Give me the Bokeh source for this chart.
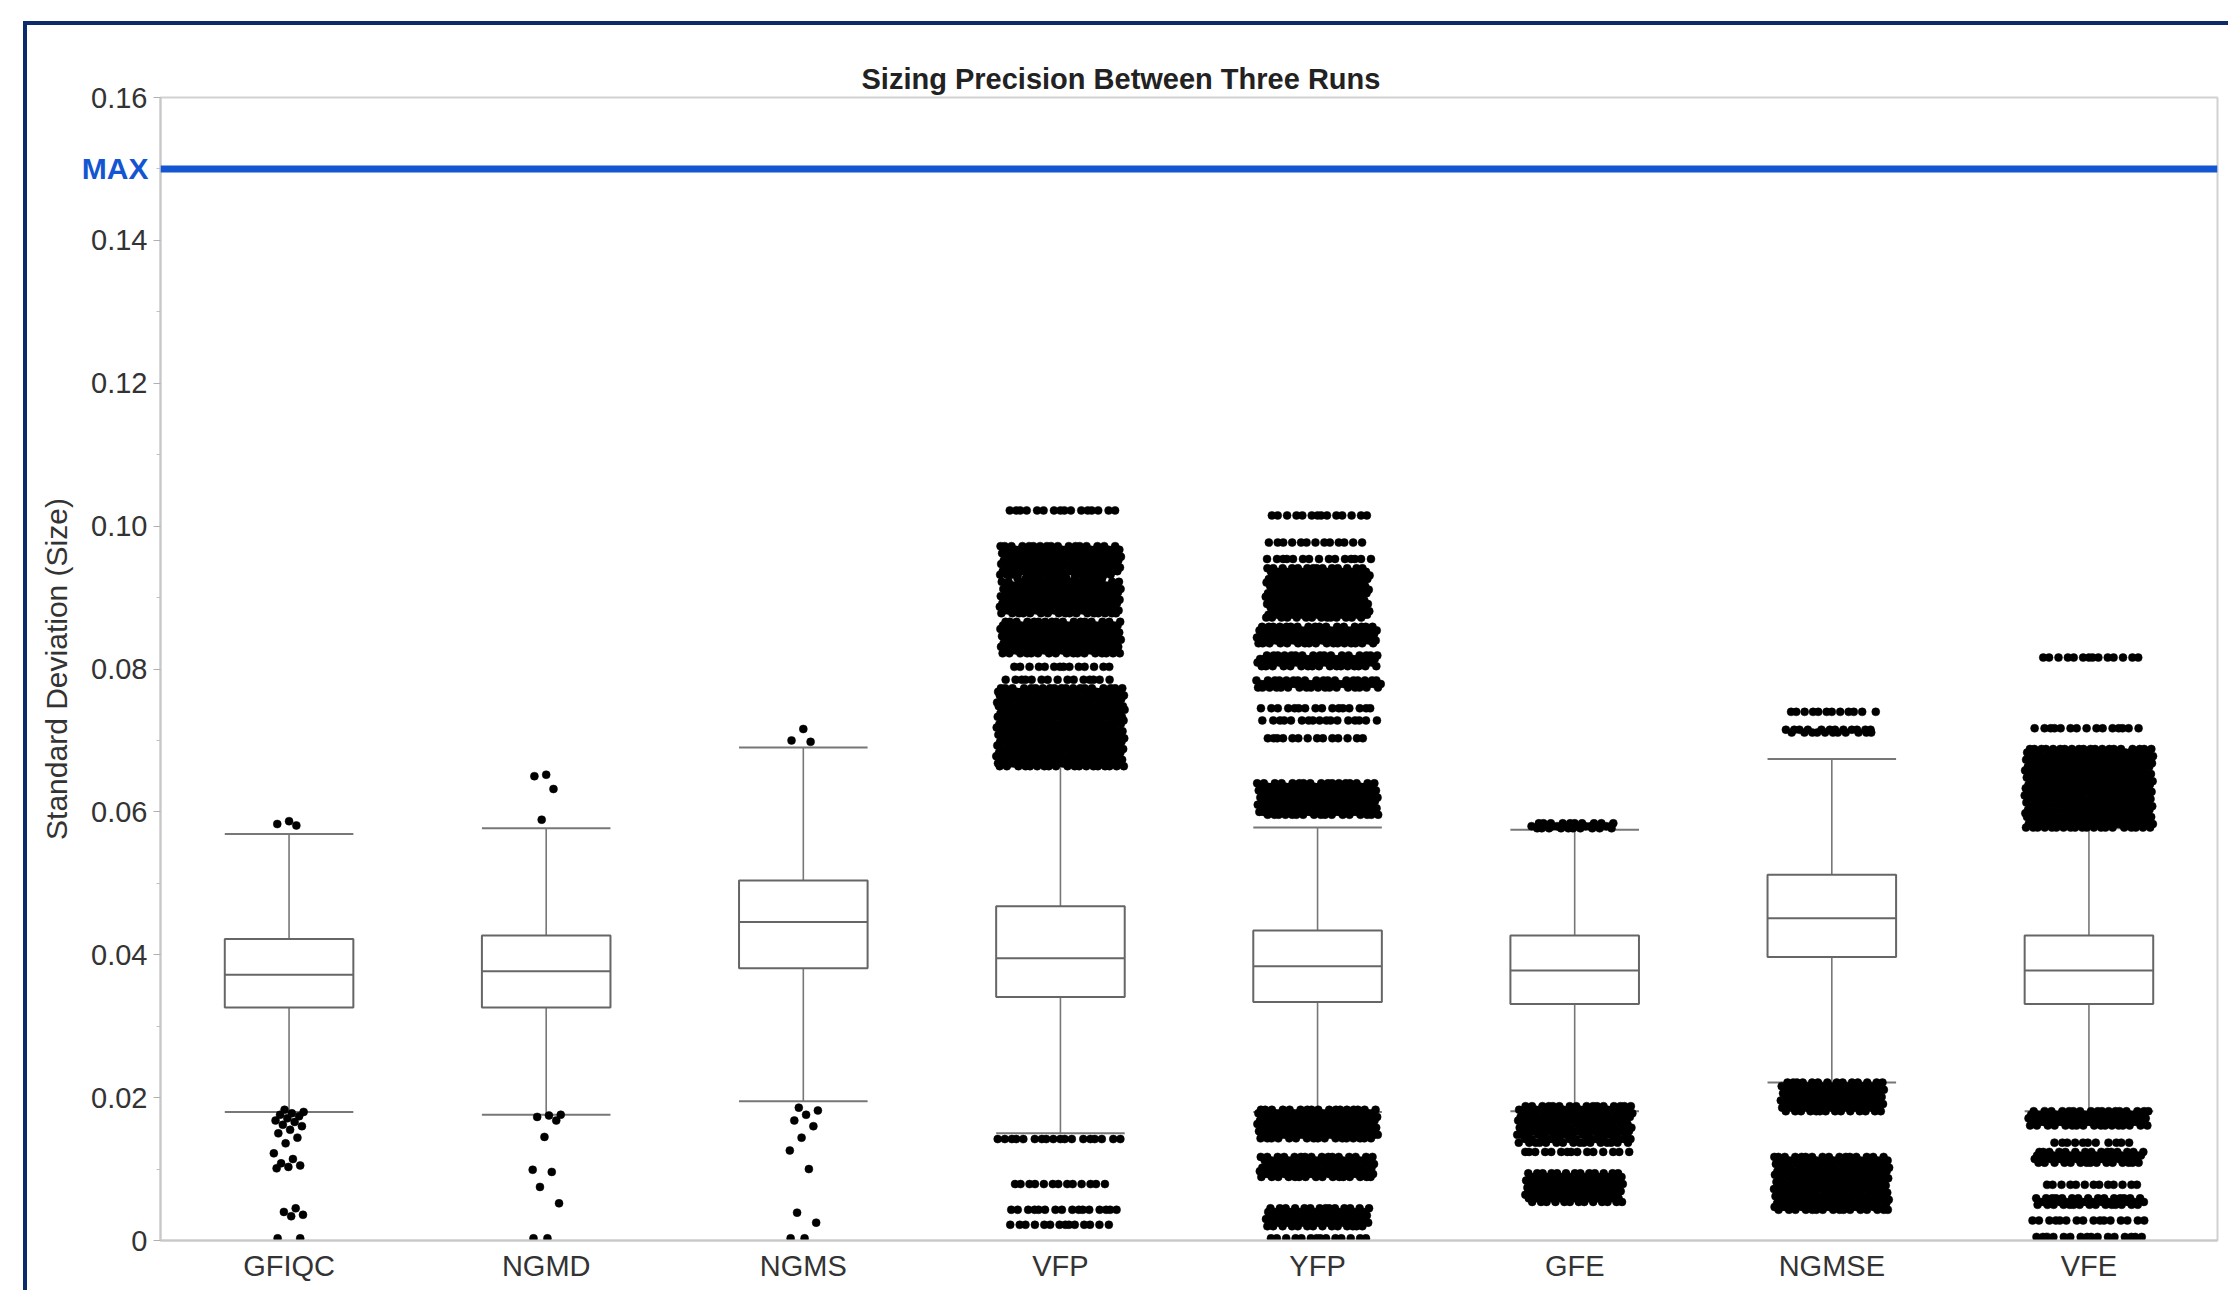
from bokeh.plotting import figure
from bokeh.models import Range1d, FixedTicker, PrintfTickFormatter, Span, LinearAxis
from bokeh.embed import file_html
from bokeh.resources import INLINE

# ---------------- data ----------------
categories = ["GFIQC", "NGMD", "NGMS", "VFP", "YFP", "GFE", "NGMSE", "VFE"]
q1 = [0.0326, 0.0326, 0.0381, 0.0341, 0.0334, 0.0331, 0.0397, 0.0331]
median = [0.0372, 0.0377, 0.0446, 0.0395, 0.0384, 0.0378, 0.0451, 0.0378]
q3 = [0.0422, 0.0427, 0.0504, 0.0468, 0.0434, 0.0427, 0.0512, 0.0427]
whisker_low = [0.0180, 0.0176, 0.0195, 0.0150, 0.0180, 0.0181, 0.0221, 0.0181]
whisker_high = [0.0569, 0.0577, 0.0690, 0.0663, 0.0578, 0.0575, 0.0674, 0.0577]
MAX_LEVEL = 0.15
y_ticks = [0, 0.02, 0.04, 0.06, 0.08, 0.10, 0.12, 0.14, 0.16]
y_minor = [0.01, 0.03, 0.05, 0.07, 0.09, 0.11, 0.13, 0.15]

# outliers: value levels and number of points at each level
GFIQC_out_vals = [0.0587, 0.0583, 0.0581, 0.0183, 0.0180, 0.0178, 0.0176, 0.0174, 0.0171,
                  0.0168, 0.0166, 0.0162, 0.0160, 0.0155, 0.0150, 0.0144, 0.0136, 0.0122,
                  0.0114, 0.0108, 0.0105, 0.0103, 0.0101, 0.0045, 0.0040, 0.0036, 0.0034, 0.0003]
GFIQC_out_counts = [1, 1, 1, 1, 1, 1, 1, 1, 1, 1, 1, 1, 1, 1, 1, 1, 1, 1, 1, 1, 1, 1, 1, 1, 1, 1, 1, 2]

NGMD_out_vals = [0.0652, 0.0650, 0.0632, 0.0589, 0.0176, 0.0175, 0.0173, 0.0168, 0.0145,
                 0.0099, 0.0096, 0.0075, 0.0052, 0.0003]
NGMD_out_counts = [1, 1, 1, 1, 1, 1, 1, 1, 1, 1, 1, 1, 1, 2]

NGMS_out_vals = [0.0716, 0.0700, 0.0698, 0.0186, 0.0182, 0.0176, 0.0168, 0.0160, 0.0144,
                 0.0126, 0.0100, 0.0039, 0.0025, 0.0003]
NGMS_out_counts = [1, 1, 1, 1, 1, 1, 1, 1, 1, 1, 1, 1, 1, 2]

VFP_out_vals = [0.1022,
                0.0972, 0.0967, 0.0962, 0.0957, 0.0952, 0.0947, 0.0942, 0.0937, 0.0932, 0.0927,
                0.0922, 0.0917, 0.0912, 0.0907, 0.0902, 0.0897, 0.0892, 0.0887, 0.0882, 0.0878,
                0.0866, 0.0861, 0.0856, 0.0851, 0.0846, 0.0841, 0.0836, 0.0831, 0.0826, 0.0822,
                0.0803, 0.0785,
                0.0773, 0.0768, 0.0763, 0.0758, 0.0753, 0.0748, 0.0743, 0.0738, 0.0733, 0.0728,
                0.0723, 0.0718, 0.0713, 0.0708, 0.0703, 0.0698, 0.0693, 0.0688, 0.0683, 0.0678,
                0.0673, 0.0668, 0.0664,
                0.0142, 0.0079, 0.0043, 0.0022]
VFP_out_counts = [16,
                  17, 17, 17, 17, 17, 17, 17, 17, 17, 12,
                  17, 17, 17, 17, 17, 17, 17, 17, 17, 17,
                  17, 17, 17, 17, 17, 17, 17, 17, 17, 17,
                  14, 15,
                  19, 19, 19, 19, 19, 19, 19, 19, 19, 19,
                  19, 19, 19, 19, 19, 19, 19, 19, 19, 19,
                  19, 19, 19,
                  18, 13, 16, 14]

YFP_out_vals = [0.1015, 0.0977, 0.0954,
                0.0941, 0.0936, 0.0931, 0.0926, 0.0921, 0.0916, 0.0911, 0.0906, 0.0901, 0.0896,
                0.0891, 0.0886, 0.0881, 0.0876, 0.0872,
                0.0859, 0.0854, 0.0849, 0.0844, 0.0840, 0.0836,
                0.0819, 0.0814, 0.0809, 0.0804,
                0.0784, 0.0779, 0.0774,
                0.0745, 0.0728, 0.0703,
                0.0640, 0.0635, 0.0630, 0.0625, 0.0620, 0.0615, 0.0610, 0.0605, 0.0600, 0.0596,
                0.0183, 0.0178, 0.0173, 0.0168, 0.0163, 0.0158, 0.0153, 0.0148, 0.0143,
                0.0117, 0.0112, 0.0107, 0.0102, 0.0097, 0.0093, 0.0089,
                0.0045, 0.0040, 0.0035, 0.0030, 0.0025, 0.0020,
                0.0003]
YFP_out_counts = [14, 13, 15,
                  14, 14, 14, 14, 14, 14, 14, 14, 14, 14,
                  14, 14, 14, 14, 14,
                  17, 17, 17, 17, 17, 17,
                  17, 17, 17, 17,
                  18, 18, 18,
                  16, 17, 14,
                  17, 17, 17, 17, 17, 17, 17, 17, 17, 17,
                  17, 17, 17, 17, 17, 17, 17, 17, 17,
                  16, 16, 16, 16, 16, 16, 16,
                  14, 14, 14, 14, 14, 14,
                  14]

GFE_out_vals = [0.0584, 0.0580, 0.0577,
                0.0188, 0.0183, 0.0178, 0.0173, 0.0168, 0.0163, 0.0158, 0.0153, 0.0148, 0.0142, 0.0137,
                0.0124,
                0.0094, 0.0089, 0.0084, 0.0079, 0.0074, 0.0069, 0.0064, 0.0059, 0.0054]
GFE_out_counts = [10, 11, 10,
                  16, 16, 16, 16, 16, 16, 16, 16, 16, 16, 16,
                  15,
                  13, 13, 13, 13, 13, 13, 13, 13, 13]

NGMSE_out_vals = [0.0740, 0.0715, 0.0711,
                  0.0221, 0.0216, 0.0211, 0.0206, 0.0201, 0.0196, 0.0191, 0.0186, 0.0181,
                  0.0117, 0.0112, 0.0107, 0.0102, 0.0097, 0.0092, 0.0087, 0.0082, 0.0077, 0.0072,
                  0.0067, 0.0062, 0.0057, 0.0052, 0.0047, 0.0043]
NGMSE_out_counts = [12, 12, 11,
                    14, 14, 14, 14, 14, 14, 14, 14, 14,
                    16, 16, 16, 16, 16, 16, 16, 16, 16, 16,
                    16, 16, 16, 16, 16, 16]

VFE_out_vals = [0.0816, 0.0717,
                0.0688, 0.0683, 0.0678, 0.0673, 0.0668, 0.0663, 0.0658, 0.0653, 0.0648, 0.0643,
                0.0638, 0.0633, 0.0628, 0.0623, 0.0618, 0.0613, 0.0608, 0.0603, 0.0598, 0.0593,
                0.0588, 0.0583, 0.0578,
                0.0181, 0.0176, 0.0171, 0.0166, 0.0161,
                0.0137,
                0.0124, 0.0119, 0.0114, 0.0109,
                0.0078,
                0.0059, 0.0054, 0.0050,
                0.0028, 0.0005]
VFE_out_counts = [14, 15,
                  20, 20, 20, 20, 20, 20, 20, 20, 20, 20,
                  20, 20, 20, 20, 20, 20, 20, 20, 20, 20,
                  20, 20, 20,
                  17, 17, 17, 17, 17,
                  11,
                  15, 15, 15, 15,
                  13,
                  15, 15, 15,
                  16, 16]

out_vals = [GFIQC_out_vals, NGMD_out_vals, NGMS_out_vals, VFP_out_vals,
            YFP_out_vals, GFE_out_vals, NGMSE_out_vals, VFE_out_vals]
out_counts = [GFIQC_out_counts, NGMD_out_counts, NGMS_out_counts, VFP_out_counts,
              YFP_out_counts, GFE_out_counts, NGMSE_out_counts, VFE_out_counts]

# ---------------- styling constants ----------------
FONT = "Liberation Sans"
TEXT = "#333333"
BLUE = "#1456d2"
NAVY = "#0d2a6a"
BOX_W = 0.5

xc = [i + 0.5 for i in range(len(categories))]

page_bg = ("linear-gradient(%s, %s) 23px 21px / 4px 100%% no-repeat, "
           "linear-gradient(%s, %s) 23px 21px / 100%% 4px no-repeat, #ffffff") % (NAVY, NAVY, NAVY, NAVY)

p = figure(width=2228, height=1290,
           x_range=Range1d(0, len(categories)), y_range=Range1d(0, 0.16),
           output_backend="svg", toolbar_location=None,
           min_border_left=160, min_border_right=11, min_border_top=97, min_border_bottom=50,
           background_fill_color="white", border_fill_color=None,
           styles={"background": page_bg})
p.outline_line_color = "#d2d2d2"
p.outline_line_width = 2
p.xgrid.visible = False
p.ygrid.visible = False

# title
p.title.text = "Sizing Precision Between Three Runs"
p.title.align = "left"
p.title.offset = 701
p.title.text_font = FONT
p.title.text_font_size = "29px"
p.title.text_font_style = "bold"
p.title.text_color = "#222222"
p.title.standoff = 5

# numeric y axis (next to the frame)
p.yaxis.ticker = FixedTicker(ticks=y_ticks, minor_ticks=y_minor)
p.yaxis.formatter = PrintfTickFormatter(format="%.2f")
p.yaxis.major_label_overrides = {0: "0"}
p.yaxis.major_label_text_font = FONT
p.yaxis.major_label_text_font_size = "29px"
p.yaxis.major_label_text_color = TEXT
p.yaxis.major_label_standoff = 6
p.yaxis.axis_line_color = "#c8c8c8"
p.yaxis.axis_line_width = 2
p.yaxis.major_tick_line_color = "#b0b0b0"
p.yaxis.minor_tick_line_color = "#c0c0c0"
p.yaxis.major_tick_out = 7
p.yaxis.major_tick_in = 0
p.yaxis.minor_tick_out = 4
p.yaxis.minor_tick_in = 0

# x axis
p.xaxis.ticker = FixedTicker(ticks=xc, minor_ticks=[])
p.xaxis.major_label_overrides = {x: c for x, c in zip(xc, categories)}
p.xaxis.major_label_text_font = FONT
p.xaxis.major_label_text_font_size = "29px"
p.xaxis.major_label_text_color = TEXT
p.xaxis.major_label_standoff = 9
p.xaxis.major_tick_out = 0
p.xaxis.major_tick_in = 0
p.xaxis.minor_tick_out = 0
p.xaxis.axis_line_color = "#c8c8c8"
p.xaxis.axis_line_width = 2

# outer y axis: carries the blue "MAX" marker (pulled into the label column) and the axis title
max_axis = LinearAxis(ticker=FixedTicker(ticks=[MAX_LEVEL], minor_ticks=[]),
                      major_label_overrides={MAX_LEVEL: "MAX"},
                      axis_line_color=None,
                      major_tick_line_color=None, major_tick_out=0, major_tick_in=0,
                      minor_tick_line_color=None, minor_tick_out=0, minor_tick_in=0,
                      major_label_standoff=-60,
                      major_label_text_color=BLUE,
                      major_label_text_font=FONT,
                      major_label_text_font_size="30px",
                      major_label_text_font_style="bold",
                      axis_label="Standard Deviation (Size)",
                      axis_label_text_font=FONT,
                      axis_label_text_font_size="30px",
                      axis_label_text_font_style="normal",
                      axis_label_text_color=TEXT,
                      axis_label_standoff=6)
p.add_layout(max_axis, "left")

# MAX line
p.add_layout(Span(location=MAX_LEVEL, dimension="width", line_color=BLUE, line_width=7))

# whiskers
p.segment(x0=xc, y0=q3, x1=xc, y1=whisker_high, line_color="#777777", line_width=1.6)
p.segment(x0=xc, y0=q1, x1=xc, y1=whisker_low, line_color="#777777", line_width=1.6)
left = [x - BOX_W / 2 for x in xc]
right = [x + BOX_W / 2 for x in xc]
p.segment(x0=left, y0=whisker_high, x1=right, y1=whisker_high, line_color="#777777", line_width=2)
p.segment(x0=left, y0=whisker_low, x1=right, y1=whisker_low, line_color="#777777", line_width=2)

# boxes
p.vbar(x=xc, width=BOX_W, top=q3, bottom=q1, fill_color="white", line_color="#666666", line_width=2)
p.segment(x0=left, y0=median, x1=right, y1=median, line_color="#666666", line_width=2)

# jittered outlier points (density-based jitter width)
PHI = 0.6180339887
ox, oy = [], []
for i, (vals, counts) in enumerate(zip(out_vals, out_counts)):
    k = 0
    for v, n in zip(vals, counts):
        half = min(0.25, 0.06 + 0.011 * (n - 1))
        for _ in range(n):
            t = (0.5 + k * PHI) % 1.0
            ox.append(xc[i] + (t - 0.5) * 2 * half)
            oy.append(v)
            k += 1
p.scatter(x=ox, y=oy, size=8, fill_color="black", line_color="black", line_width=0.5)

open("out.html", "w").write(file_html(p, INLINE))
